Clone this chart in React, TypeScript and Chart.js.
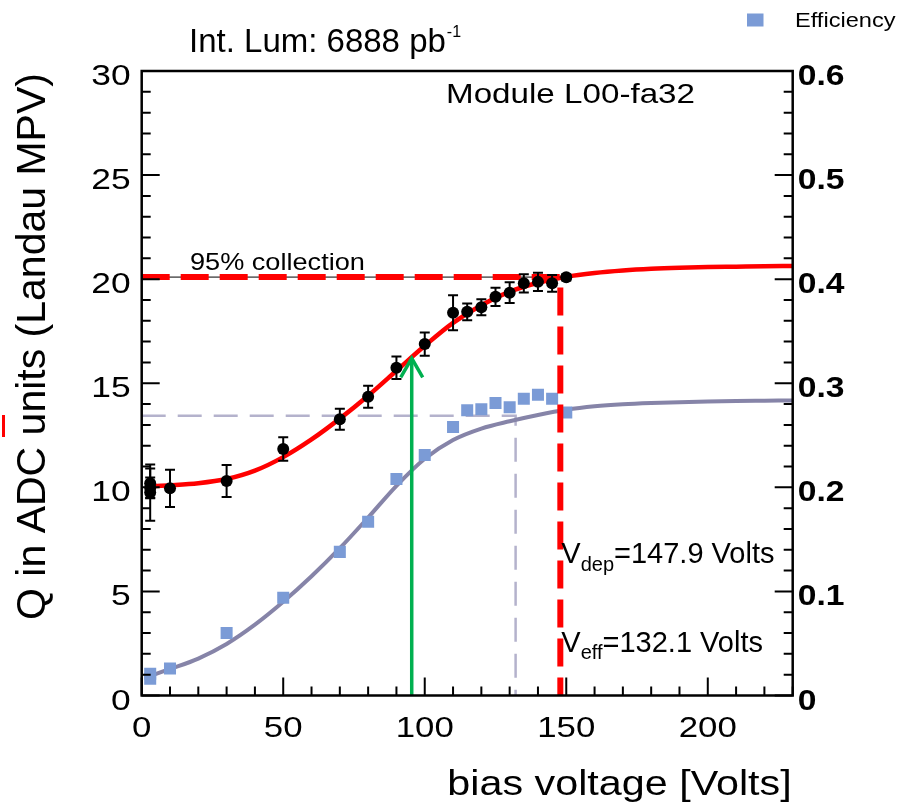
import React, { useEffect, useRef } from 'react';
import { Chart, registerables } from 'chart.js';

Chart.register(...registerables);

// ---------- data ----------
const qVolts = [3, 3, 3, 10, 30, 50, 70, 80, 90, 100, 110, 115, 120, 125, 130, 135, 140, 145, 150];
const qCharge = [10.2, 9.97, 9.75, 9.95, 10.3, 11.84, 13.27, 14.35, 15.74, 16.88, 18.39, 18.43, 18.65, 19.15, 19.35, 19.8, 19.87, 19.8, 20.09];
const qError = [0.7, 0.5, 1.35, 0.89, 0.77, 0.56, 0.5, 0.53, 0.54, 0.56, 0.84, 0.4, 0.38, 0.44, 0.5, 0.44, 0.44, 0.4, 0.15];

const effVolts = [3, 3, 10, 30, 50, 70, 80, 90, 100, 110, 115, 120, 125, 130, 135, 140, 145, 150];
const effValues = [0.021, 0.016, 0.026, 0.06, 0.094, 0.138, 0.167, 0.208, 0.231, 0.258, 0.274, 0.275, 0.281, 0.277, 0.285, 0.289, 0.285, 0.272];

const fitVolts = [3, 10, 20, 30, 40, 50, 60, 70, 80, 90, 100, 110, 120, 130, 140, 150, 160, 170, 180, 190, 200, 210, 220, 230];
const chargeFit = [10.05, 10.1, 10.2, 10.4, 10.8, 11.45, 12.3, 13.3, 14.4, 15.6, 16.8, 17.9, 18.75, 19.4, 19.83, 20.12, 20.3, 20.42, 20.5, 20.55, 20.58, 20.6, 20.62, 20.63];
const effFit = [0.0188, 0.0255, 0.0355, 0.0495, 0.068, 0.09, 0.1145, 0.1415, 0.171, 0.2015, 0.2275, 0.2455, 0.2565, 0.2635, 0.2695, 0.2745, 0.2778, 0.2798, 0.281, 0.2818, 0.2824, 0.2829, 0.2832, 0.2835];

const vDep = 147.9;
const vEff = 132.1;
const collection95 = 20.1;
const effPlateau = 0.2688;
const arrowVolt = 95.4;
const arrowTip = 16.2;

const xTicks = [0, 50, 100, 150, 200];
const xTickLabels = ['0', '50', '100', '150', '200'];
const yTicks = [0, 5, 10, 15, 20, 25, 30];
const yTickLabels = ['0', '5', '10', '15', '20', '25', '30'];
const y1Ticks = [0, 0.1, 0.2, 0.3, 0.4, 0.5, 0.6];
const y1TickLabels = ['0', '0.1', '0.2', '0.3', '0.4', '0.5', '0.6'];

const X_MAX = 230;
const Y_MAX = 30;
const Y1_MAX = 0.6;

// ---------- styles ----------
const RED = '#ff0000';
const GREEN = '#00b050';
const EFF_BLUE = '#7b9bd6';
const EFF_FIT = '#8684a8';
const EFF_DASH = '#b4b2cc';
const FONT = '"Liberation Sans", Arial, Helvetica, sans-serif';

function drawText(ctx: CanvasRenderingContext2D, text: string, x: number, y: number, size: number, sx = 1, align: CanvasTextAlign = 'left', bold = false, color = '#000') {
  ctx.save();
  ctx.font = `${bold ? 'bold ' : ''}${size}px ${FONT}`;
  ctx.fillStyle = color;
  ctx.textAlign = align;
  ctx.textBaseline = 'alphabetic';
  ctx.translate(x, y);
  ctx.scale(sx, 1);
  ctx.fillText(text, 0, 0);
  const w = ctx.measureText(text).width * sx;
  ctx.restore();
  return w;
}

const rootPlugin = {
  id: 'rootStyle',
  afterDatasetsDraw(chart: any) {
    const { ctx, scales } = chart;
    const x = scales.x;
    const y = scales.y;
    ctx.save();
    // error bars
    ctx.strokeStyle = '#000';
    ctx.lineWidth = 2;
    qVolts.forEach((v, i) => {
      const px = x.getPixelForValue(v);
      const top = y.getPixelForValue(qCharge[i] + qError[i]);
      const bot = y.getPixelForValue(qCharge[i] - qError[i]);
      ctx.beginPath();
      ctx.moveTo(px, top);
      ctx.lineTo(px, bot);
      ctx.moveTo(px - 5, top);
      ctx.lineTo(px + 5, top);
      ctx.moveTo(px - 5, bot);
      ctx.lineTo(px + 5, bot);
      ctx.stroke();
    });
    // arrow head
    const ax = x.getPixelForValue(arrowVolt);
    const ay = y.getPixelForValue(arrowTip);
    ctx.strokeStyle = GREEN;
    ctx.lineWidth = 3.5;
    ctx.lineJoin = 'miter';
    ctx.beginPath();
    ctx.moveTo(ax - 11, ay + 19);
    ctx.lineTo(ax, ay);
    ctx.lineTo(ax + 11, ay + 19);
    ctx.stroke();
    ctx.restore();
  },
  afterDraw(chart: any) {
    const { ctx, chartArea, scales } = chart;
    const { left, right, top, bottom } = chartArea;
    const x = scales.x;
    const y = scales.y;
    const y1 = scales.y1;
    ctx.save();
    // frame
    ctx.strokeStyle = '#000';
    ctx.lineWidth = 2.5;
    ctx.strokeRect(left, top, right - left, bottom - top);
    ctx.lineWidth = 2;
    ctx.beginPath();
    // left axis ticks (inside)
    for (let v = 0; v <= Y_MAX; v += 1) {
      const py = y.getPixelForValue(v);
      const len = v % 5 === 0 ? 18 : 9;
      ctx.moveTo(left, py);
      ctx.lineTo(left + len, py);
    }
    // right axis ticks (inside)
    for (let k = 0; k <= 30; k += 1) {
      const py = y1.getPixelForValue((k * Y1_MAX) / 30);
      const len = k % 5 === 0 ? 18 : 9;
      ctx.moveTo(right, py);
      ctx.lineTo(right - len, py);
    }
    // x ticks (inside)
    for (let v = 0; v <= X_MAX; v += 10) {
      const px = x.getPixelForValue(v);
      const len = v % 50 === 0 ? 18 : 9;
      ctx.moveTo(px, bottom);
      ctx.lineTo(px, bottom - len);
    }
    ctx.stroke();

    // tick labels
    yTicks.forEach((v, i) => {
      drawText(ctx, yTickLabels[i], left - 11, y.getPixelForValue(v) + 14, 29, 1.22, 'right');
    });
    y1Ticks.forEach((v, i) => {
      drawText(ctx, y1TickLabels[i], right + 5, y1.getPixelForValue(v) + 14, 29, 1.16, 'left', true);
    });
    xTicks.forEach((v, i) => {
      drawText(ctx, xTickLabels[i], x.getPixelForValue(v), bottom + 41, 29, 1.2, 'center');
    });

    // axis titles
    drawText(ctx, 'bias voltage [Volts]', right - 1, 795, 35, 1.18, 'right');
    ctx.save();
    ctx.translate(45, 346.5);
    ctx.rotate(-Math.PI / 2);
    drawText(ctx, 'Q in ADC units (Landau MPV)', 0, 0, 41, 1, 'center');
    ctx.restore();

    // small red mark at far left
    ctx.fillStyle = RED;
    ctx.fillRect(2, 415, 3, 22);

    // top text
    const w1 = drawText(ctx, 'Int. Lum: 6888 pb', 189, 52, 33);
    drawText(ctx, '-1', 189 + w1 + 1, 37, 16);
    drawText(ctx, 'Module L00-fa32', 446, 103, 28, 1.185);
    drawText(ctx, '95% collection', 190, 270, 24, 1.13);

    // V_dep / V_eff
    const vx = x.getPixelForValue(vDep) + 1;
    let w = drawText(ctx, 'V', vx, 563, 29);
    let w2 = drawText(ctx, 'dep', vx + w, 571, 20);
    drawText(ctx, '=147.9 Volts', vx + w + w2, 563, 29);
    w = drawText(ctx, 'V', vx, 652, 29);
    w2 = drawText(ctx, 'eff', vx + w, 659, 20);
    drawText(ctx, '=132.1 Volts', vx + w + w2, 652, 29);

    // legend
    ctx.fillStyle = EFF_BLUE;
    ctx.fillRect(747, 13.5, 16.5, 13);
    drawText(ctx, 'Efficiency', 795, 26.5, 20, 1.18);
    ctx.restore();
  },
};

export default function App() {
  const canvasRef = useRef<HTMLCanvasElement | null>(null);

  useEffect(() => {
    if (!canvasRef.current) return;
    const chart = new Chart(canvasRef.current, {
      type: 'scatter',
      data: {
        datasets: [
          {
            label: 'Q (Landau MPV)',
            data: qVolts.map((v, i) => ({ x: v, y: qCharge[i] })),
            yAxisID: 'y',
            pointStyle: 'circle',
            pointRadius: 6,
            backgroundColor: '#000',
            borderWidth: 0,
            order: 0,
          },
          {
            label: 'arrow',
            data: [{ x: arrowVolt, y: 0 }, { x: arrowVolt, y: arrowTip }],
            yAxisID: 'y',
            showLine: true,
            borderColor: GREEN,
            borderWidth: 3.5,
            pointRadius: 0,
            order: 1,
          },
          {
            label: '95% collection',
            data: [{ x: 0, y: collection95 }, { x: vDep, y: collection95 }, { x: vDep, y: 0 }],
            yAxisID: 'y',
            showLine: true,
            borderColor: RED,
            borderWidth: 6,
            borderDash: [28, 11],
            pointRadius: 0,
            order: 2,
          },
          {
            label: 'collection line',
            data: [{ x: 0, y: collection95 }, { x: vDep, y: collection95 }],
            yAxisID: 'y',
            showLine: true,
            borderColor: '#000',
            borderWidth: 1,
            pointRadius: 0,
            order: 3,
          },
          {
            label: 'Q fit',
            data: fitVolts.map((v, i) => ({ x: v, y: chargeFit[i] })),
            yAxisID: 'y',
            showLine: true,
            borderColor: RED,
            borderWidth: 4.5,
            cubicInterpolationMode: 'monotone',
            pointRadius: 0,
            order: 4,
          },
          {
            label: 'Efficiency',
            data: effVolts.map((v, i) => ({ x: v, y: effValues[i] })),
            yAxisID: 'y1',
            pointStyle: 'rect',
            pointRadius: 8.5,
            backgroundColor: EFF_BLUE,
            borderWidth: 0,
            order: 5,
          },
          {
            label: 'Efficiency fit',
            data: fitVolts.map((v, i) => ({ x: v, y: effFit[i] })),
            yAxisID: 'y1',
            showLine: true,
            borderColor: EFF_FIT,
            borderWidth: 4,
            cubicInterpolationMode: 'monotone',
            pointRadius: 0,
            order: 6,
          },
          {
            label: 'V_eff',
            data: [{ x: 0, y: effPlateau }, { x: vEff, y: effPlateau }, { x: vEff, y: 0 }],
            yAxisID: 'y1',
            showLine: true,
            borderColor: EFF_DASH,
            borderWidth: 2.5,
            borderDash: [24, 12],
            pointRadius: 0,
            order: 7,
          },
        ],
      },
      options: {
        responsive: false,
        devicePixelRatio: 1,
        animation: false,
        events: [],
        layout: { padding: { left: 141.7, top: 71, right: 901 - 792.7, bottom: 805 - 695.5 } },
        plugins: { legend: { display: false }, title: { display: false }, tooltip: { enabled: false } },
        scales: {
          x: { type: 'linear', min: 0, max: X_MAX, display: false },
          y: { type: 'linear', min: 0, max: Y_MAX, display: false, position: 'left' },
          y1: { type: 'linear', min: 0, max: Y1_MAX, display: false, position: 'right' },
        },
      },
      plugins: [rootPlugin],
    } as any);
    return () => chart.destroy();
  }, []);

  return (
    <div style={{ position: 'absolute', left: 0, top: 0, width: 901, height: 805, background: '#fff' }}>
      <canvas ref={canvasRef} width={901} height={805} style={{ display: 'block' }} />
    </div>
  );
}
